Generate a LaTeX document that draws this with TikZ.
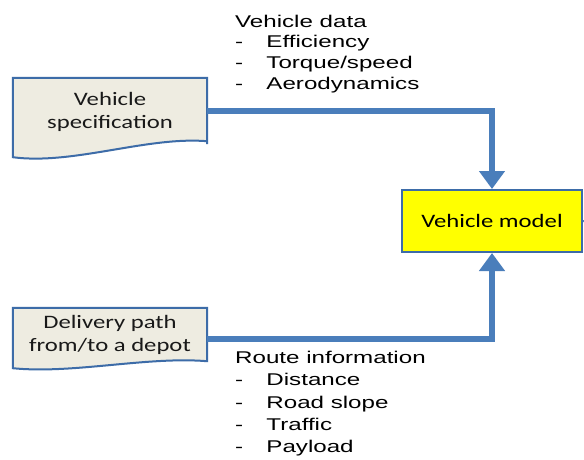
\documentclass[tikz,border=0pt]{standalone}
\usepackage{graphicx}
\usepackage{fontspec}
\setmainfont{Liberation Sans}
\newfontfamily\boxfont{Carlito}
\usetikzlibrary{arrows.meta}
\definecolor{docfill}{HTML}{EEECE1}
\definecolor{edgeblue}{HTML}{3D6CA8}
\definecolor{connblue}{HTML}{4A7EBB}
\definecolor{modelyellow}{HTML}{FFFF00}
\newcommand{\widetxt}[1]{\scalebox{1.42}[1]{#1}}
\newcommand{\wideboxtxt}[1]{\scalebox{1.3}[1]{#1}}
\tikzset{
  docbox/.style={draw=none, inner sep=0pt, align=center, text=black!90,
    font=\boxfont\fontsize{19}{22.5}\selectfont},
  docedge/.style={draw=edgeblue, fill=docfill, line width=2pt, line join=miter},
  modelbox/.style={draw=edgeblue, fill=modelyellow, line width=2pt, inner sep=0pt,
    minimum width=180pt, minimum height=62pt, text=black,
    font=\boxfont\fontsize{19}{22.5}\selectfont},
  lst/.style={anchor=base west, inner sep=0pt, text=black,
    font=\fontsize{17}{20}\selectfont},
  conn/.style={draw=connblue, line width=6.5pt, line join=miter,
    -{Triangle[width=25pt,length=18pt]}},
  stub/.style={draw=connblue, line width=2pt}
}
\begin{document}
\begin{tikzpicture}[x=1pt,y=-1pt]
\useasboundingbox (0,0) rectangle (584,459);
\fill[white] (0,0) rectangle (584,459);

% vehicle specification (document shape)
\node[docbox, minimum width=194pt, minimum height=66pt] (spec) at (110,111) {};
\draw[docedge] (spec.south east) -- (spec.north east) -- (spec.north west)
  -- ([shift={(0,13)}]spec.south west)
  .. controls ([shift={(60,21)}]spec.south west) and ([shift={(-60,-8)}]spec.south east)
  .. ([shift={(0,-3)}]spec.south east) -- cycle;
\node[docbox] (spectxt) at ([shift={(0,1)}]spec.center) {\wideboxtxt{Vehicle}\\\wideboxtxt{specification}};

% delivery path (document shape)
\node[docbox, minimum width=194pt, minimum height=54pt] (del) at (110,335) {};
\draw[docedge] (del.south east) -- (del.north east) -- (del.north west)
  -- ([shift={(0,6)}]del.south west)
  .. controls ([shift={(60,12)}]del.south west) and ([shift={(-60,-6)}]del.south east)
  .. ([shift={(0,-1)}]del.south east) -- cycle;
\node[docbox] (deltxt) at (del.center) {\wideboxtxt{Delivery path}\\\wideboxtxt{from/to a depot}};

% vehicle model
\node[modelbox] (model) at (492,221) {\wideboxtxt{Vehicle model}};
\coordinate (stubend) at (592,222);
\draw[stub] (model.east) -- (stubend);

% connectors
\draw[conn] (spec.east) -| (model.north);
\draw[conn] ([yshift=-4pt]del.east) -| (model.south);

% vehicle data list
\node[lst] (vd)  at (235,27) {\widetxt{Vehicle data}};
\node[lst] (vd1) at (235,47) {\widetxt{\makebox[22pt][l]{-}Efficiency}};
\node[lst] (vd2) at (235,68) {\widetxt{\makebox[22pt][l]{-}Torque/speed}};
\node[lst] (vd3) at (235,89) {\widetxt{\makebox[22pt][l]{-}Aerodynamics}};

% route information list
\node[lst] (ri)  at (235,363) {\widetxt{Route information}};
\node[lst] (ri1) at (235,385) {\widetxt{\makebox[22pt][l]{-}Distance}};
\node[lst] (ri2) at (235,408) {\widetxt{\makebox[22pt][l]{-}Road slope}};
\node[lst] (ri3) at (235,430) {\widetxt{\makebox[22pt][l]{-}Traffic}};
\node[lst] (ri4) at (235,452) {\widetxt{\makebox[22pt][l]{-}Payload}};
\end{tikzpicture}
\end{document}
